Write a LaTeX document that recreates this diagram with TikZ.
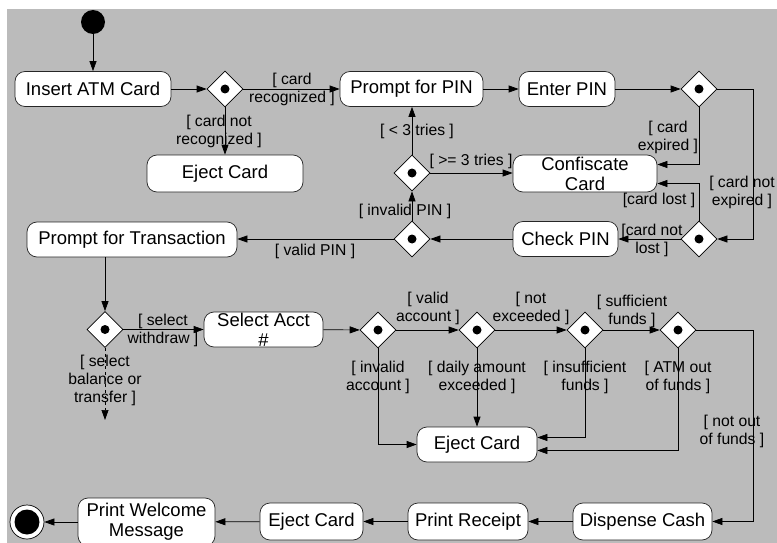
\documentclass[tikz,border=0pt]{standalone}
\usepackage{fontspec}
\setmainfont{Liberation Sans}
\usetikzlibrary{arrows.meta, positioning, shapes}

\definecolor{bggray}{RGB}{187,187,187}

\tikzset{
  action/.style={draw=black!85, fill=white, rounded corners=10pt, line width=0.7pt,
    inner sep=0pt, align=center, font=\fontsize{18.5}{20}\selectfont},
  decision/.style={diamond, draw, fill=white, line width=0.7pt, minimum width=36pt,
    minimum height=36pt, inner sep=0pt,
    path picture={\fill[black] (path picture bounding box.center) circle (4.5pt);}},
  startdot/.style={circle, fill=black, minimum size=24pt, inner sep=0pt},
  enddot/.style={circle, draw, fill=white, line width=0.7pt, minimum size=34pt, inner sep=0pt,
    path picture={\fill[black] (path picture bounding box.center) circle (12.5pt);}},
  guard/.style={align=center, inner sep=0pt, font=\fontsize{15.7}{18}\selectfont},
  flow/.style={line width=0.7pt, -{Triangle[length=10pt,width=7pt]}},
}

\begin{document}
\begin{tikzpicture}[x=1pt, y=-1pt]
\useasboundingbox (0,0) rectangle (777,543);
\fill[bggray] (7,9) rectangle (777,543);

% PIN part
\node[startdot] (start) at (93,22) {};
\node[action, minimum width=156pt, minimum height=35pt] (insert) at (93,89) {Insert ATM Card};
\node[decision] (dcard) at (225,89) {};
\node[action, minimum width=143pt, minimum height=35pt] (prompt) at (411.5,89) {Prompt for PIN};
\node[action, minimum width=96pt, minimum height=35pt] (enterpin) at (567,89) {Enter PIN};
\node[decision] (dexp) at (699,89) {};
\node[action, minimum width=156pt, minimum height=37pt] (eject1) at (225,173.5) {Eject Card};
\node[decision] (dtries) at (412,173) {};
\node[action, minimum width=144pt, minimum height=37pt] (confisc) at (585,173.5) {Confiscate\\Card};
\node[decision] (dvalid) at (412,239) {};
\node[action, minimum width=105pt, minimum height=35pt] (checkpin) at (565.5,239) {Check PIN};
\node[decision] (dlost) at (699,239) {};
\node[action, minimum width=210pt, minimum height=35pt] (ptrans) at (132,239.5) {Prompt for Transaction};

% transaction part
\node[decision] (dsel) at (105,329.5) {};
\coordinate (baltr) at (105,420);
\node[action, minimum width=119pt, minimum height=35pt] (acct) at (263.5,329.5) {Select Acct\\\#};
\node[decision] (dacct) at (378,330) {};
\node[decision] (damt) at (477,330) {};
\node[decision] (dfunds) at (585,330) {};
\node[decision] (datm) at (678,330) {};
\node[action, minimum width=120pt, minimum height=35pt] (eject2) at (477,444.5) {Eject Card};

% bottom row
\node[enddot] (finish) at (27,522) {};
\node[action, minimum width=137pt, minimum height=48pt] (pwelcome) at (146.5,522) {Print Welcome\\Message};
\node[action, minimum width=103pt, minimum height=37pt] (eject3) at (311.5,521.5) {Eject Card};
\node[action, minimum width=120pt, minimum height=37pt] (receipt) at (468,521.5) {Print Receipt};
\node[action, minimum width=139pt, minimum height=37pt] (dispense) at (642.5,521.5) {Dispense Cash};

% guards
\node[guard] (lrec) at (292,89) {[ card\\recognized ]};
\node[guard] (lnotrec) at (219,131) {[ card not\\recognized ]};
\node[guard] (lless) at (417,131) {[ < 3 tries ]};
\node[guard] (lmore) at (471,161) {[ >= 3 tries ]};
\node[guard] (linvalid) at (405,211) {[ invalid PIN ]};
\node[guard] (lvalid) at (315,251) {[ valid PIN ]};
\node[guard] (lexp) at (668,137) {[ card\\expired ]};
\node[guard] (lnotexp) at (742,192) {[ card not\\expired ]};
\node[guard] (llost) at (659,200) {[card lost ]};
\node[guard] (lnotlost) at (652,240) {[card not\\lost ]};
\node[guard] (lwithdraw) at (163,330) {[ select\\withdraw ]};
\node[guard] (lbal) at (105,380) {[ select\\balance or\\transfer ]};
\node[guard] (lvacct) at (428,308) {[ valid\\account ]};
\node[guard] (lnotexc) at (531,308) {[ not\\exceeded ]};
\node[guard] (lsuff) at (632,311) {[ sufficient\\funds ]};
\node[guard] (linvacct) at (378,377) {[ invalid\\account ]};
\node[guard] (ldaily) at (477,377) {[ daily amount\\exceeded ]};
\node[guard] (linsuff) at (585,377) {[ insufficient\\funds ]};
\node[guard] (latm) at (678,377) {[ ATM out\\of funds ]};
\node[guard] (lnotout) at (732,431) {[ not out\\of funds ]};

% connectors
\draw[flow] (start) -- (insert);
\draw[flow] (insert) -- (dcard);
\draw[flow] (dcard) -- (prompt);
\draw[flow] (dcard) -- (eject1);
\draw[flow] (prompt) -- (enterpin);
\draw[flow] (enterpin) -- (dexp);
\draw[flow] (dexp.east) -- ++(36,0) |- (dlost.east);
\draw[flow] (dexp.south) |- ([yshift=9pt]confisc.east);
\draw[flow] (dlost.north) |- ([yshift=-10pt]confisc.east);
\draw[flow] (dlost) -- (checkpin);
\draw[flow] (checkpin) -- (dvalid);
\draw[flow] (dvalid) -- (dtries);
\draw[flow] (dtries.north) -- (dtries |- prompt.south);
\draw[flow] (dtries.east) -- (dtries -| confisc.west);
\draw[flow] (dvalid.west) -- (dvalid -| ptrans.east);
\draw[flow] (dsel |- ptrans.south) -- (dsel.north);
\draw[flow, dashed] (dsel.south) -- (baltr);
\draw[flow] (dsel) -- (acct);
\draw[flow] (acct) -- (dacct);
\draw[flow] (dacct) -- (damt);
\draw[flow] (damt) -- (dfunds);
\draw[flow] (dfunds) -- (datm);
\draw[flow] (dacct.south) |- (eject2.west);
\draw[flow] (damt) -- (eject2);
\draw[flow] (dfunds.south) |- ([yshift=7pt]eject2.east);
\draw[flow] (datm.south) |- ([yshift=-6pt]eject2.east);
\draw[flow] (datm.east) -- ++(57,0) |- (dispense.east);
\draw[flow] (dispense) -- (receipt);
\draw[flow] (receipt) -- (eject3);
\draw[flow] (eject3) -- (pwelcome);
\draw[flow] (pwelcome) -- (finish);
\end{tikzpicture}
\end{document}
